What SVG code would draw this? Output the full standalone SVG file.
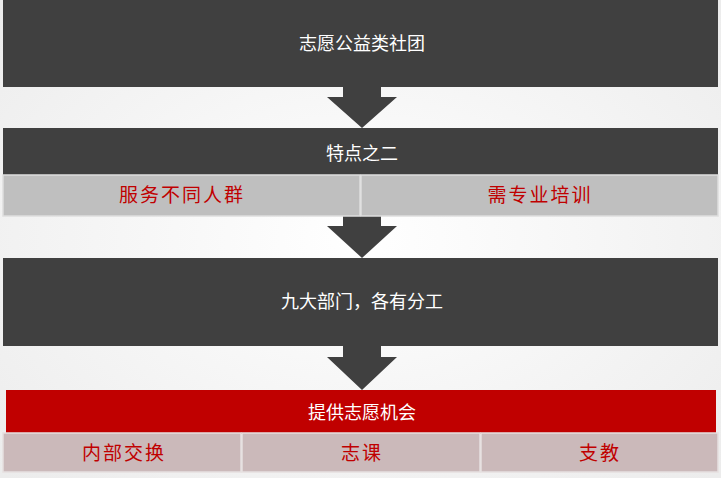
<svg xmlns="http://www.w3.org/2000/svg" width="721" height="478" viewBox="0 0 721 478">
<defs>
<radialGradient id="bg" cx="0.5" cy="0.5" r="0.7"><stop offset="0" stop-color="#ffffff"/><stop offset="1" stop-color="#ececec"/></radialGradient>
<style>
.dark{fill:#404040}
.wt{fill:#ffffff;font-family:"Noto Sans CJK SC",sans-serif;font-size:18px;text-anchor:middle;dominant-baseline:central}
.rt{fill:#c00000;font-family:"Noto Sans CJK SC",sans-serif;font-size:19px;letter-spacing:2px;text-anchor:middle;dominant-baseline:central}
.g{fill:#bfbfbf;stroke:#dedede;stroke-width:1.5}
.p{fill:#cbb9ba;stroke:#e6e0e0;stroke-width:1.5}
</style>
</defs>
<rect width="721" height="478" fill="url(#bg)"/>
<g id="connectors">
<polygon class="dark" points="343,87 381,87 381,97 397,97 362,128 327,97 343,97"/>
<polygon class="dark" points="343,216 381,216 381,226 397,226 362,258 327,226 343,226"/>
<polygon class="dark" points="343,346 381,346 381,357 397,357 362,390 327,357 343,357"/>
</g>
<g id="n1"><rect class="dark" x="3" y="0" width="715" height="87"/><text class="wt" x="362" y="42">志愿公益类社团</text></g>
<g id="n2"><rect class="dark" x="3" y="128" width="715" height="47"/><text class="wt" x="362" y="152">特点之二</text></g>
<g id="n2a"><rect class="g" x="3" y="175" width="357" height="41"/><text class="rt" x="182" y="193">服务不同人群</text></g>
<g id="n2b"><rect class="g" x="361" y="175" width="357" height="41"/><text class="rt" x="540" y="193">需专业培训</text></g>
<g id="n3"><rect class="dark" x="3" y="258" width="715" height="88"/><text class="wt" x="362" y="300">九大部门，各有分工</text></g>
<g id="n4"><rect fill="#c00000" x="6" y="390" width="710" height="44"/><text class="wt" x="362" y="411">提供志愿机会</text></g>
<g id="n4a"><rect class="p" x="3" y="433" width="238" height="39"/><text class="rt" x="124" y="451">内部交换</text></g>
<g id="n4b"><rect class="p" x="242" y="433" width="238" height="39"/><text class="rt" x="362" y="451">志课</text></g>
<g id="n4c"><rect class="p" x="481" y="433" width="237" height="39"/><text class="rt" x="600" y="451">支教</text></g>
</svg>
